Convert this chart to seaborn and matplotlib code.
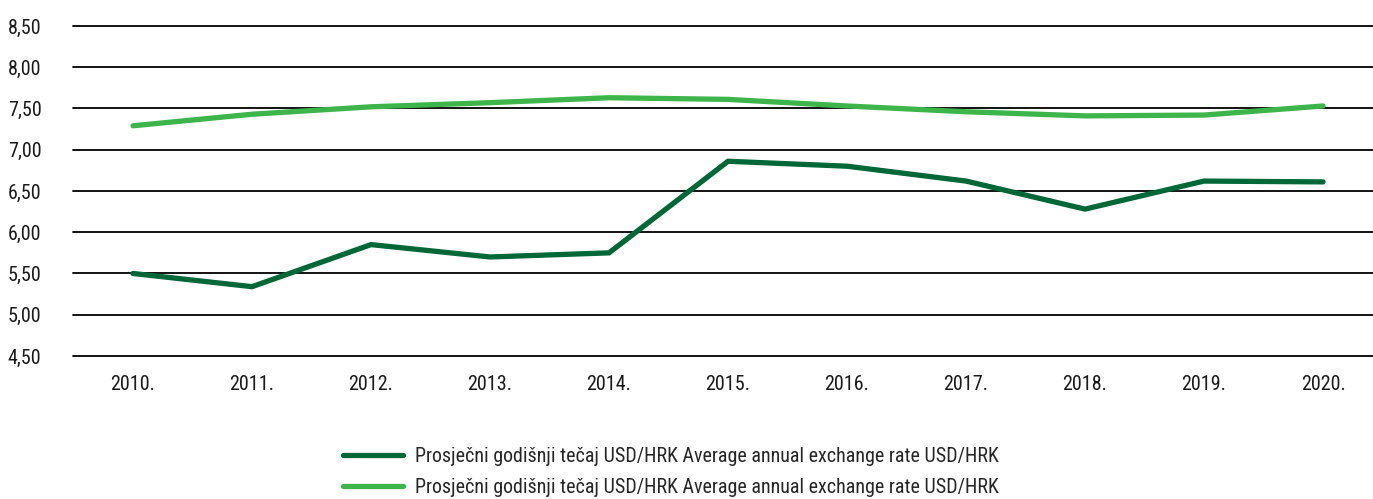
import matplotlib
matplotlib.use("Agg")
import matplotlib.pyplot as plt
import seaborn as sns
import pandas as pd
from matplotlib.ticker import FuncFormatter, MultipleLocator

years = ["2010.", "2011.", "2012.", "2013.", "2014.", "2015.", "2016.", "2017.", "2018.", "2019.", "2020."]
usd_hrk = [5.50, 5.34, 5.85, 5.70, 5.75, 6.86, 6.80, 6.62, 6.28, 6.62, 6.61]
eur_hrk = [7.29, 7.43, 7.52, 7.57, 7.63, 7.61, 7.53, 7.46, 7.41, 7.42, 7.53]
label1 = "Prosječni godišnji tečaj USD/HRK Average annual exchange rate USD/HRK"
label2 = "Prosječni godišnji tečaj USD/HRK Average annual exchange rate USD/HRK"
dark_green = "#006837"
light_green = "#3db54a"

sns.set_theme(style="white")
plt.rcParams['font.family'] = ['Roboto Condensed', 'Liberation Sans', 'DejaVu Sans']

fig = plt.figure(figsize=(13.73, 4.99), dpi=100)
ax = fig.add_axes([0.0532, 0.2866, 0.9468, 0.6614])

x = list(range(len(years)))
df1 = pd.DataFrame({"x": x, "y": usd_hrk})
df2 = pd.DataFrame({"x": x, "y": eur_hrk})
sns.lineplot(data=df1, x="x", y="y", color=dark_green, linewidth=3.8, label=label1, ax=ax,
             solid_capstyle="round", solid_joinstyle="miter")
sns.lineplot(data=df2, x="x", y="y", color=light_green, linewidth=3.8, label=label2, ax=ax,
             solid_capstyle="round", solid_joinstyle="miter")

ax.set_ylim(4.5, 8.5)
ax.yaxis.set_major_locator(MultipleLocator(0.5))
ax.yaxis.set_major_formatter(FuncFormatter(lambda v, p: f"{v:.2f}".replace(".", ",")))
ax.set_xlim(-0.504, 10.42)
ax.set_xticks(x)
ax.set_xticklabels(years)
ax.grid(axis="y", color="black", linewidth=1.3)
for gl in ax.get_ygridlines():
    gl.set_clip_on(False)
ax.set_axisbelow(True)
for s in ax.spines.values():
    s.set_visible(False)
ax.tick_params(axis="both", length=0, labelsize=14.5, colors="#1a1a1a")
ax.tick_params(axis="x", pad=14)
ax.tick_params(axis="y", pad=47)
for lbl in ax.get_yticklabels():
    lbl.set_horizontalalignment("left")
ax.set_xlabel("")
ax.set_ylabel("")

ax.legend(loc="upper center", bbox_to_anchor=(0.46, -0.22), frameon=False, ncol=1,
          fontsize=14.4, handlelength=3.0, handletextpad=0.6, labelspacing=0.62)

fig.savefig("out.png", dpi=100)
